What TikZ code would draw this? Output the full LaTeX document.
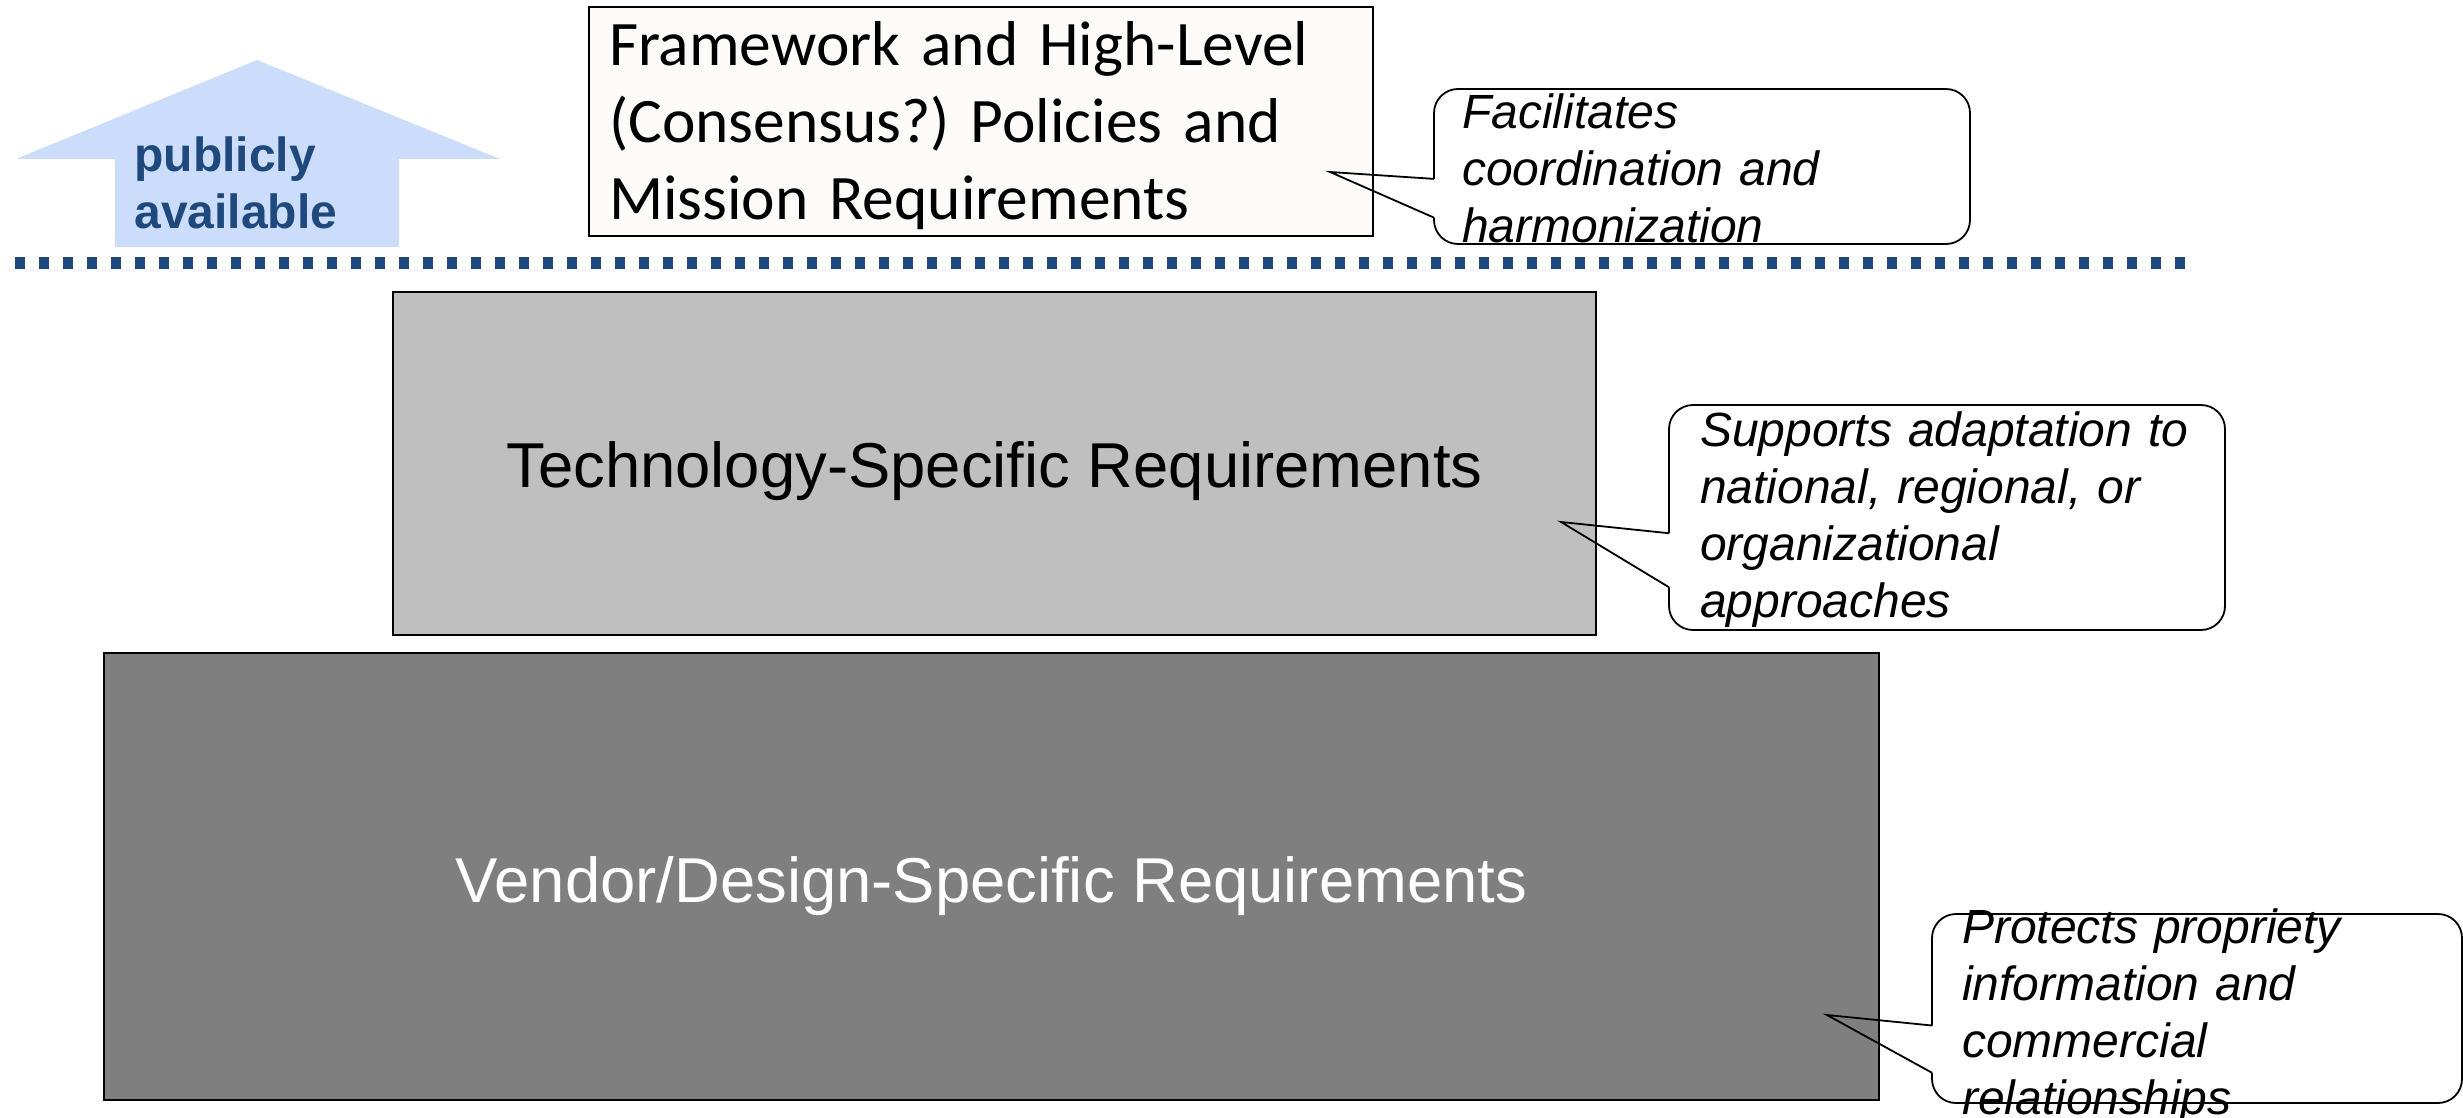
\documentclass[tikz,border=0pt]{standalone}
\usepackage{fontspec}
\setmainfont{Liberation Sans}
\newfontfamily\calibri{Carlito}
\usetikzlibrary{calc}

\definecolor{arrowblue}{RGB}{204,221,251}
\definecolor{pubblue}{RGB}{31,73,125}
\definecolor{techgray}{RGB}{191,191,191}
\definecolor{vendorgray}{RGB}{127,127,127}
\definecolor{paper}{RGB}{252,251,249}

\begin{document}
\frenchspacing
\begin{tikzpicture}[x=0.5pt,y=-0.5pt,
  tierbox/.style={draw,line width=0.9pt,outer sep=0pt,font=\fontsize{31.7}{38}\selectfont,text depth=6.7pt},
  callbox/.style={outer sep=0pt,inner sep=0pt},
  callnote/.style={inner sep=0pt,align=left,font=\fontsize{24}{28.5}\selectfont\itshape},
  callline/.style={line width=0.9pt}]
  \useasboundingbox (0,0) rectangle (2463,1118);

  % block arrow
  \fill[arrowblue] (115,247) -- (115,159) -- (16,159) -- (257,60) -- (500,159) -- (399,159) -- (399,247) -- cycle;
  \node[anchor=west,inner sep=0pt,align=left,text=pubblue,font=\fontsize{24}{28.5}\selectfont\bfseries] (pub) at (134,183) {publicly\\available};

  \node[draw,line width=0.9pt,fill=paper,minimum height=114.5pt,text width=372pt,inner xsep=10pt,inner ysep=0pt,align=left,font=\calibri\fontsize{31.7}{38.5}\selectfont] (frame) at (981,121.5) {\rule{0pt}{26pt}Framework and High-Level\\(Consensus?) Policies and\\Mission Requirements};

  \coordinate (dotL) at (15,263);
  \coordinate (dotR) at (2186,263);
  \draw[pubblue,line width=6pt,dash pattern=on 5pt off 7pt] (dotL) -- (dotR);

  \node[tierbox,fill=techgray,minimum width=601.5pt,minimum height=171.5pt,text height=31pt] (tech) at (994.5,463.5) {Technology-Specific Requirements};
  \node[tierbox,fill=vendorgray,text=white,minimum width=887.5pt,minimum height=223.5pt,text height=32.5pt] (vendor) at (991.5,876.5) {Vendor/Design-Specific Requirements};

  % callouts
  \node[callbox,minimum width=268pt,minimum height=77.5pt] (fac) at (1702,166.5) {};
  \node[callbox,minimum width=278pt,minimum height=112.5pt] (sup) at (1947,517.5) {};
  \node[callbox,minimum width=265pt,minimum height=94.5pt] (pro) at (2197,1008.5) {};
  \node[callnote,text width=240pt] (facText) at (1702,168) {Facilitates\\coordination and\\harmonization};
  \node[callnote,text width=247pt] (supText) at (1947,520) {Supports adaptation to\\national, regional, or\\organizational\\approaches};
  \node[callnote,text width=235pt] (proText) at (2197,1017) {Protects propriety\\information and\\commercial\\relationships};

  \coordinate (facTip) at (1330,172);
  \coordinate (supTip) at (1561,522);
  \coordinate (proTip) at (1827,1015);

  \draw[callline,rounded corners=12pt] ($(fac.north west)!0.58!(fac.south west)$) -- (fac.north west) -- (fac.north east) -- (fac.south east) -- (fac.south west) -- ($(fac.north west)!0.83!(fac.south west)$);
  \draw[callline] ($(fac.north west)!0.83!(fac.south west)$) -- (facTip) -- ($(fac.north west)!0.58!(fac.south west)$);

  \draw[callline,rounded corners=12pt] ($(sup.north west)!0.57!(sup.south west)$) -- (sup.north west) -- (sup.north east) -- (sup.south east) -- (sup.south west) -- ($(sup.north west)!0.81!(sup.south west)$);
  \draw[callline] ($(sup.north west)!0.81!(sup.south west)$) -- (supTip) -- ($(sup.north west)!0.57!(sup.south west)$);

  \draw[callline,rounded corners=12pt] ($(pro.north west)!0.59!(pro.south west)$) -- (pro.north west) -- (pro.north east) -- (pro.south east) -- (pro.south west) -- ($(pro.north west)!0.84!(pro.south west)$);
  \draw[callline] ($(pro.north west)!0.84!(pro.south west)$) -- (proTip) -- ($(pro.north west)!0.59!(pro.south west)$);
\end{tikzpicture}
\end{document}
